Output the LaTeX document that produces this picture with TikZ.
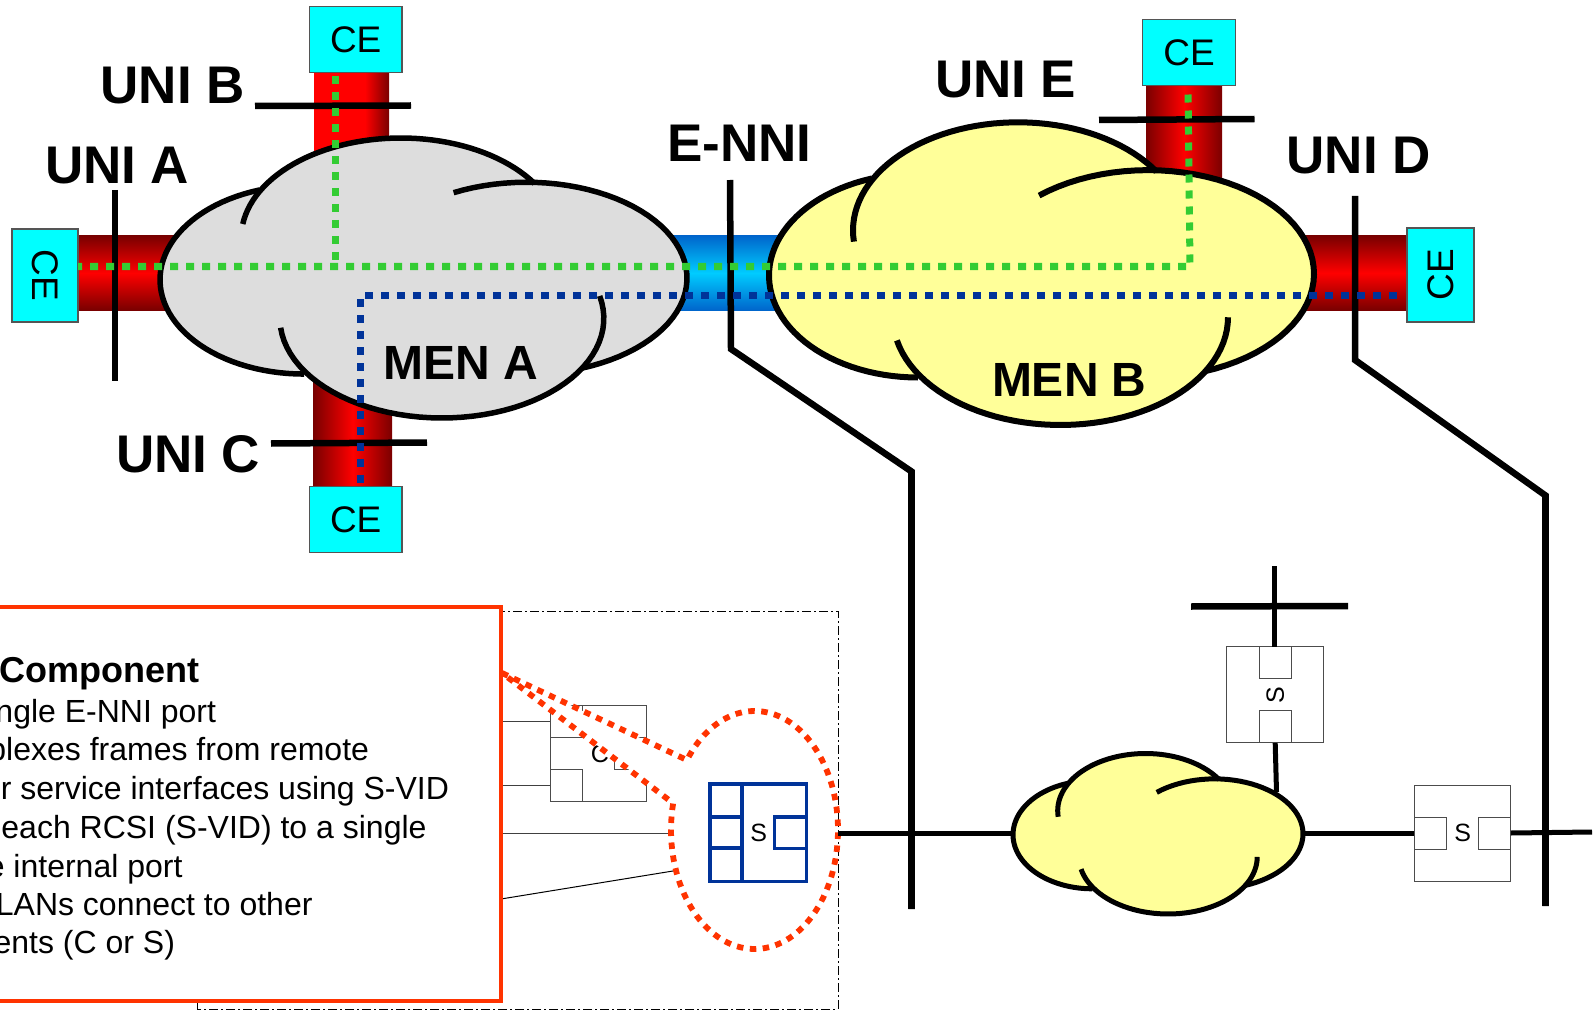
\documentclass[tikz,border=0pt]{standalone}
\usepackage{fontspec}
\setmainfont{Liberation Sans}
\definecolor{ceCyan}{HTML}{00FFFF}
\definecolor{ceEdge}{HTML}{555555}
\definecolor{darkRed}{HTML}{7A0000}
\definecolor{pipeBlueEdge}{HTML}{0066CC}
\definecolor{pipeBlueMid}{HTML}{00CCFF}
\definecolor{dotGreen}{HTML}{33CC33}
\definecolor{dotBlue}{HTML}{003399}
\definecolor{cloudGray}{HTML}{DDDDDD}
\definecolor{cloudYellow}{HTML}{FFFF99}
\definecolor{callRed}{HTML}{FF3300}
\newcommand{\fs}[1]{\fontsize{#1}{#1}\selectfont}
\newcommand{\cloudlobe}[6]{\draw plot[domain=#1:#2,samples=50,variable=\t] ({#3+#5*cos(\t)},{#4+#6*sin(\t)});}
% left top width height fill linewidth hook1 hook2 hook3 hook4
\newcommand{\drawcloud}[9]{%
\begin{scope}[shift={(#1,#2)},xscale=#3/1090,yscale=#4/905,shift={(-102,-367)},line width=#6pt,line join=round]
\fill[#5] plot[domain=-151:-33,samples=40,variable=\t] ({600+330*cos(\t)},{690+323*sin(\t)})
 -- plot[domain=-86:70,samples=40,variable=\t] ({860+332*cos(\t)},{820+310*sin(\t)})
 -- plot[domain=30.6:147,samples=40,variable=\t] ({685+335*cos(\t)},{950+322*sin(\t)})
 -- plot[domain=90:252,samples=40,variable=\t] ({400+298*cos(\t)},{825+305*sin(\t)}) -- cycle;
\cloudlobe{90}{252}{400}{825}{298}{305}
\cloudlobe{#7}{-33}{600}{690}{330}{323}
\cloudlobe{#8}{70}{860}{820}{332}{310}
\cloudlobe{#9}{\hookfour}{685}{950}{335}{322}
\end{scope}}
\tikzset{
 ce/.style={draw=ceEdge,fill=ceCyan,line width=1.6pt,inner sep=0pt,outer sep=0pt,font=\fs{37}},
 uni/.style={inner sep=0pt,outer sep=0pt,anchor=base west,font=\fs{53}\bfseries},
 men/.style={inner sep=0pt,outer sep=0pt,anchor=base west,font=\fs{48}\bfseries},
 bar/.style={line width=6.5pt,black},
 barthin/.style={line width=5pt,black},
 gdots/.style={line width=7pt,dotGreen,dash pattern=on 8pt off 8pt},
 bdots/.style={line width=7pt,dotBlue,dash pattern=on 8pt off 8pt},
 hpipe/.style={top color=darkRed,bottom color=darkRed,middle color=red},
 vpipe/.style={left color=darkRed,right color=darkRed,middle color=red},
 thinbox/.style={draw=black!70,line width=1pt,inner sep=0pt,outer sep=0pt,fill=white},
 thinline/.style={draw=black!75,line width=1pt},
 bluebox/.style={draw=dotBlue,line width=3.6pt,inner sep=0pt,outer sep=0pt},
 bodytext/.style={inner sep=0pt,outer sep=0pt,anchor=base east,font=\fs{32}},
}
\begin{document}
\begin{tikzpicture}[x=1pt,y=-1pt]
\fill[white] (0,0) rectangle (1596,1011);
\useasboundingbox (0,0) rectangle (1596,1011);

% pipes
\shade[hpipe] (78,236) rectangle (180,310);
\fill[red] (313.6,72) rectangle (365,160);
\shade[left color=red,right color=darkRed] (365,72) rectangle (389,160);
\shade[vpipe] (313.6,370) rectangle (392,486);
\shade[top color=pipeBlueEdge,bottom color=pipeBlueEdge,middle color=pipeBlueMid] (670,236) rectangle (790,310);
\shade[vpipe] (1146,85) rectangle (1222,190);
\shade[hpipe] (1295,236) rectangle (1408,310);

% clouds
\def\hookfour{174.6}
\drawcloud{160}{138}{527}{280}{cloudGray}{5.5}{-172}{-117}{-13}
\def\hookfour{167.6}
\drawcloud{769}{122.3}{545}{302.7}{cloudYellow}{6}{-186}{-131}{0}

% CE boxes
\node[ce,minimum width=92.5pt,minimum height=66pt] (ceB) at (355.7,39.5) {CE};
\node[ce,minimum width=66pt,minimum height=93pt] (ceA) at (45,275.5) {\rotatebox{-90}{CE}};
\node[ce,minimum width=92.5pt,minimum height=66pt] (ceC) at (355.7,519.5) {CE};
\node[ce,minimum width=93pt,minimum height=66pt] (ceE) at (1189,52.5) {CE};
\node[ce,minimum width=67pt,minimum height=94pt] (ceD) at (1440.5,275) {\rotatebox{90}{CE}};

% labels
\node[uni] (uB) at (100.5,104) {UNI B};
\node[uni] (uA) at (45,184) {UNI A};
\node[uni] (uC) at (116,472) {UNI C};
\node[uni] (uE) at (935,98) {UNI E};
\node[uni] (uD) at (1286.5,174) {UNI D};
\node[uni] (eN) at (667,162) {E-NNI};
\node[men] (mA) at (383.5,379.5) {MEN A};
\node[men] (mB) at (992,396.5) {MEN B};

% UNI bars
\coordinate (bBl) at (255,106); \coordinate (bBr) at (411,105.5);
\coordinate (bCl) at (271,443.5); \coordinate (bCr) at (427,442.5);
\coordinate (bEl) at (1099,120); \coordinate (bEr) at (1254.5,119);
\coordinate (bAt) at (115,190); \coordinate (bAb) at (115,381);
\draw[bar] (bBl) -- (bBr);
\draw[bar] (bCl) -- (bCr);
\draw[bar] (bEl) -- (bEr);
\draw[bar] (bAt) -- (bAb);
\coordinate (nT) at (730,180); \coordinate (nK1) at (731,349); \coordinate (nK2) at (911.5,471.5); \coordinate (nB) at (911.5,909);
\coordinate (dT) at (1355,196); \coordinate (dK1) at (1355,360); \coordinate (dK2) at (1545.5,495.5); \coordinate (dB) at (1545.5,906);
\draw[bar,line join=miter] (nT) -- (nK1) -- (nK2) -- (nB);
\draw[bar,line join=miter] (dT) -- (dK1) -- (dK2) -- (dB);

% service paths
\coordinate (gA) at (78,266.5); \coordinate (gC) at (1190,266.5); \coordinate (gE) at (1188,87.7);
\coordinate (gB) at (335,76); \coordinate (gJ) at (335,266.5);
\draw[gdots,dash phase=4pt] (gA) -- (gC) -- (gE);
\draw[gdots] (gB) -- (gJ);
\coordinate (bH0) at (365,295.6); \coordinate (bH1) at (1400,295.6);
\coordinate (bV0) at (360.4,299); \coordinate (bV1) at (360.4,484);
\draw[bdots] (bH0) -- (bH1);
\draw[bdots] (bV0) -- (bV1);

% dash-dot frame
\draw[black,line width=1pt,dash pattern=on 9pt off 3pt on 2pt off 3pt] (197,1009) -- (197,611) -- (838,611) -- (838,1009) -- cycle;

% C component behind the callout
\node[thinbox,minimum width=96pt,minimum height=96pt] (cbox) at (598,753) {};
\node[thinbox,minimum width=32.5pt,minimum height=32pt,anchor=north west] (cp1) at (cbox.north west) {};
\node[thinbox,minimum width=32.5pt,minimum height=32pt,anchor=south west] (cp2) at (cbox.south west) {};
\node[thinbox,minimum width=32pt,minimum height=32pt,anchor=east] (cp3) at (cbox.east) {};
\node[inner sep=0pt,font=\fs{25}] (cl) at (600,754) {C};
\coordinate (rA) at (501,721); \coordinate (rB) at (501,785); \coordinate (rC) at (501,833); \coordinate (rD) at (501,899);
\draw[thinline] (rA) -- (cbox.west |- rA);
\draw[thinline] (rB) -- (cbox.west |- rB);
\draw[thinline] (rC) -- (675,833);
\draw[thinline,black] (rD) -- (676,870.5);
\draw[black,line width=1pt] (502.5,691) -- (502.5,932);

% callout pointer and ellipse
\coordinate (tip) at (502,673);
\fill[white] (tip) -- plot[domain=-144:193,samples=120,variable=\t] ({754.5+83.5*cos(\t)},{830+119*sin(\t)}) -- cycle;
\draw[callRed,line width=5.8pt,dash pattern=on 6.5pt off 6.5pt] (tip) -- plot[domain=-144:193,samples=120,variable=\t] ({754.5+83.5*cos(\t)},{830+119*sin(\t)}) -- cycle;

% text box
\node[draw=callRed,fill=white,line width=4pt,inner sep=0pt,outer sep=0pt,minimum width=521pt,minimum height=394pt] (note) at (240.5,803.7) {};
\node[bodytext,font=\fs{36}\bfseries] (t0) at (199,682.5) {Component};
\node[bodytext] (t1) at (216,722.5) {ngle E-NNI port};
\node[bodytext] (t2) at (369,760.5) {plexes frames from remote};
\node[bodytext] (t3) at (449,799.5) {r service interfaces using S-VID};
\node[bodytext] (t4) at (426.5,838) {each RCSI (S-VID) to a single};
\node[bodytext] (t5) at (182.5,877) {e internal port};
\node[bodytext] (t6) at (312.5,915) {LANs connect to other};
\node[bodytext] (t7) at (175,953.5) {ents (C or S)};

% blue S component
\node[bluebox,minimum width=96.4pt,minimum height=97.7pt] (sb) at (758.2,832.8) {};
\coordinate (sc1) at (742,784); \coordinate (sc2) at (742,881.7);
\draw[bluebox] (sc1) -- (sc2);
\coordinate (sl1) at (710,816.7); \coordinate (sl2) at (742,816.7); \coordinate (sl3) at (710,848); \coordinate (sl4) at (742,848);
\draw[bluebox] (sl1) -- (sl2);
\draw[bluebox] (sl3) -- (sl4);
\node[bluebox,minimum width=32pt,minimum height=31.3pt,anchor=east] (sp) at (sb.east) {};
\node[inner sep=0pt,font=\fs{25}] (sbt) at (758.6,833) {S};

% lower network
\coordinate (ellR) at (838,833); \coordinate (lnkL) at (1016,833); \coordinate (lnkR) at (1302,833);
\coordinate (lnkE) at (1592,832); \coordinate (cloudTop) at (1276.5,792);
\node[thinbox,minimum width=97.2pt,minimum height=96.3pt] (sV) at (1275.2,694.8) {};
\node[thinbox,minimum width=32.4pt,minimum height=32.3pt,anchor=north] (sV1) at (sV.north) {};
\node[thinbox,minimum width=32.4pt,minimum height=32.3pt,anchor=south] (sV2) at (sV.south) {};
\node[inner sep=0pt,font=\fs{25}] (sVt) at (sV.center) {\rotatebox{90}{S}};
\node[thinbox,minimum width=96.5pt,minimum height=96pt] (sH) at (1462.7,833) {};
\node[thinbox,minimum width=32.2pt,minimum height=32pt,anchor=west] (sH1) at (sH.west) {};
\node[thinbox,minimum width=32.2pt,minimum height=32pt,anchor=east] (sH2) at (sH.east) {};
\node[inner sep=0pt,font=\fs{25}] (sHt) at (sH.center) {S};
\coordinate (uT) at (1274.4,566);
\coordinate (hL) at (1191,606.5); \coordinate (hR) at (1348,606);
\draw[barthin] (uT) -- (sV.north -| uT);
\draw[bar] (hL) -- (hR);
\draw[barthin] (sV.south) -- (cloudTop);
\draw[barthin] (ellR) -- (lnkL);
\draw[barthin] (lnkR) -- (sH.west);
\draw[barthin] (sH.east) -- (lnkE);
\draw[line width=7pt] (nK2) -- (nB);
\draw[line width=7pt] (dK2) -- (dB);
\def\hookfour{167.6}
\drawcloud{1013}{753.5}{290}{160.5}{cloudYellow}{5}{-186}{-131}{0}
\end{tikzpicture}
\end{document}
